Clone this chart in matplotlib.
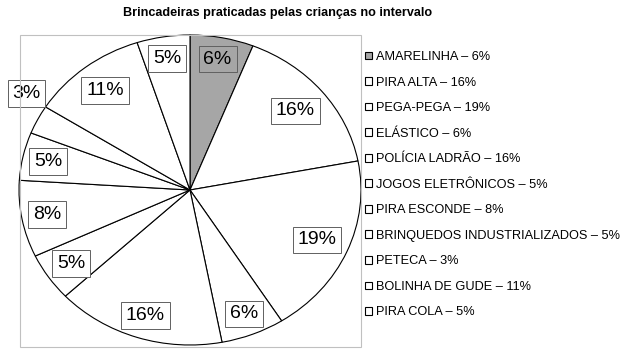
import matplotlib.pyplot as plt
from matplotlib.patches import Patch, Rectangle
import numpy as np

plt.rcParams["font.family"] = ["Liberation Sans", "DejaVu Sans"]

titulo = "Brincadeiras praticadas pelas crianças no intervalo"
brincadeiras = ["AMARELINHA", "PIRA ALTA", "PEGA-PEGA", "ELÁSTICO", "POLÍCIA LADRÃO",
                "JOGOS ELETRÔNICOS", "PIRA ESCONDE", "BRINQUEDOS INDUSTRIALIZADOS",
                "PETECA", "BOLINHA DE GUDE", "PIRA COLA"]
percentuais = [6, 16, 19, 6, 16, 5, 8, 5, 3, 11, 5]
cores = ["#a6a6a6"] + ["white"] * 10
# distancia do rotulo ao centro (Excel empurra o 3% para fora)
dist_rotulo = [0.86, 0.80, 0.81, 0.86, 0.85, 0.84, 0.85, 0.85, 1.14, 0.81, 0.86]

fig = plt.figure(figsize=(6.3, 3.52), dpi=100)

# moldura da area do grafico
fig.patches.append(Rectangle((20 / 630, 1 - 347 / 352), 341 / 630, 312 / 352,
                             transform=fig.transFigure, fill=False,
                             edgecolor="#c0c0c0", lw=0.8))

ax = fig.add_axes([19 / 630, 1 - 345 / 352, 342 / 630, 310 / 352])
wedges, _ = ax.pie(percentuais, colors=cores, startangle=90, counterclock=False,
                   wedgeprops=dict(edgecolor="black", linewidth=0.8))
ax.set_aspect("auto")
ax.set_xlim(-1, 1)
ax.set_ylim(-1, 1)
ax.axis("off")

for w, p, d in zip(wedges, percentuais, dist_rotulo):
    w.set_clip_on(False)
    ang = np.deg2rad((w.theta1 + w.theta2) / 2)
    if p == 3:
        ang = np.deg2rad(147)
    fc = "none" if w.get_facecolor()[0] < 0.9 else "white"
    ax.text(d * np.cos(ang), d * np.sin(ang), f"{p}%", ha="center", va="center",
            fontsize=14, clip_on=False,
            bbox=dict(boxstyle="square,pad=0.25", facecolor=fc,
                      edgecolor="#606060", lw=0.7))

fig.text(278 / 630, 1 - 13 / 352, titulo, ha="center", va="center",
         fontsize=9.1, fontweight="bold")

handles = [Patch(facecolor=c, edgecolor="black", lw=0.8) for c in cores]
labels = [f"{b} – {p}%" for b, p in zip(brincadeiras, percentuais)]
fig.legend(handles, labels, loc="upper left", bbox_to_anchor=(365 / 630, 1 - 51 / 352),
           frameon=False, fontsize=9.2, handlelength=0.55, handleheight=0.55,
           handletextpad=0.3, labelspacing=1.06, borderpad=0, borderaxespad=0)

fig.savefig("out.png", dpi=100)
